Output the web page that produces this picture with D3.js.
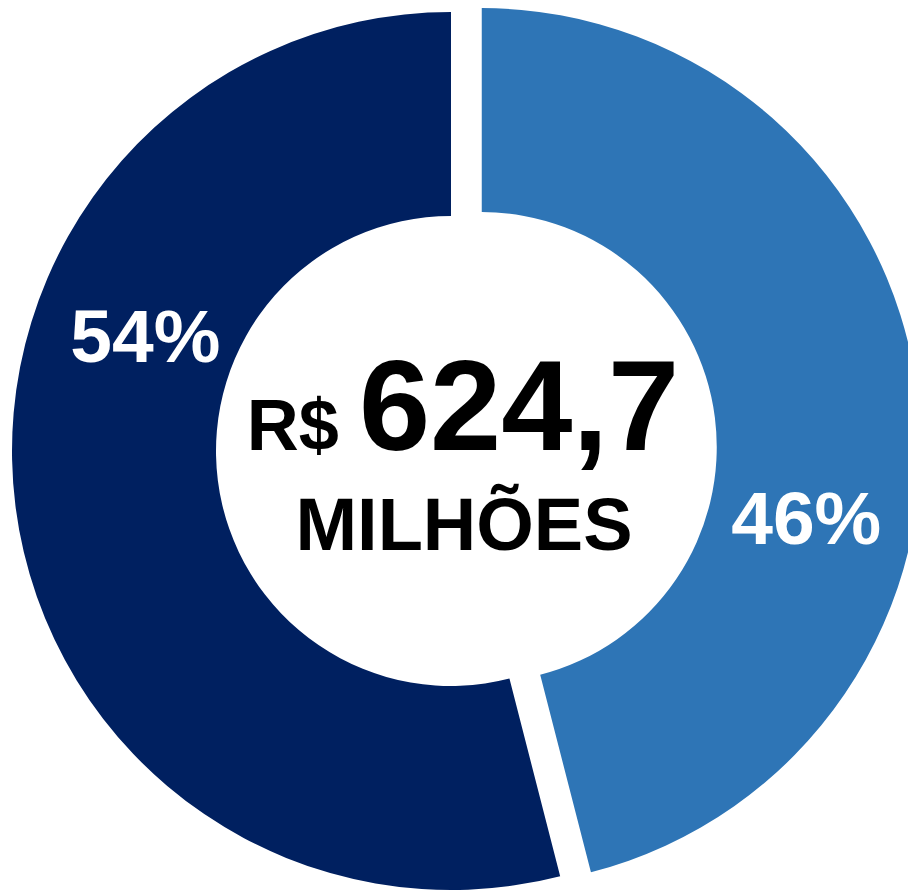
<!DOCTYPE html>
<html>
<head>
<meta charset="utf-8">
<script src="https://cdn.jsdelivr.net/npm/d3@7"></script>
<style>
  html, body { margin: 0; padding: 0; background: #fff; }
  svg { display: block; font-family: "Liberation Sans", Arial, sans-serif; }
</style>
</head>
<body>
<div id="chart"></div>
<script>
const categories = ["Parcela A", "Parcela B"];
const values = [46, 54];
const pctLabels = ["46%", "54%"];
const colors = ["#2E75B6", "#002060"];
const totalValue = "624,7";
const currency = "R$";
const unit = "MILHÕES";

const width = 908, height = 892;
const cx = 451, cy = 451;
const outerR = 439, innerR = 235;
const explode = [31, 0];
// label placement relative to slice centroid (PowerPoint puts them a bit off-center)
const labelShift = [19.4, 28];
const labelR = [332, 327];

const svg = d3.select("#chart").append("svg")
  .attr("width", width)
  .attr("height", height);

const g = svg.append("g").attr("transform", `translate(${cx},${cy})`);

const pie = d3.pie().sort(null).startAngle(0).endAngle(2 * Math.PI);
const arcs = pie(values);

const arc = d3.arc().innerRadius(innerR).outerRadius(outerR);

const slices = g.selectAll(".slice")
  .data(arcs)
  .enter().append("g")
  .attr("class", "slice")
  .attr("transform", (d, i) => {
    const mid = (d.startAngle + d.endAngle) / 2;
    return `translate(${Math.sin(mid) * explode[i]},${-Math.cos(mid) * explode[i]})`;
  });

slices.append("path")
  .attr("d", arc)
  .attr("fill", (d, i) => colors[i]);

const labelAngle = (d, i) => (d.startAngle + d.endAngle) / 2 + labelShift[i] * Math.PI / 180;

slices.append("text")
  .attr("x", (d, i) => Math.sin(labelAngle(d, i)) * labelR[i])
  .attr("y", (d, i) => -Math.cos(labelAngle(d, i)) * labelR[i])
  .attr("dy", "0.36em")
  .attr("text-anchor", "middle")
  .style("font-size", "75px")
  .style("font-weight", "bold")
  .style("fill", "#fff")
  .text((d, i) => pctLabels[i]);

// centre text
const line1 = g.append("text")
  .attr("x", 12)
  .attr("y", -1)
  .attr("text-anchor", "middle")
  .style("font-weight", "bold")
  .style("fill", "#000");

line1.append("tspan")
  .style("font-size", "72px")
  .text(currency + " ");

line1.append("tspan")
  .style("font-size", "128px")
  .text(totalValue);

g.append("text")
  .attr("x", 13)
  .attr("y", 99)
  .attr("text-anchor", "middle")
  .style("font-size", "74px")
  .style("font-weight", "bold")
  .style("fill", "#000")
  .text(unit);
</script>
</body>
</html>
